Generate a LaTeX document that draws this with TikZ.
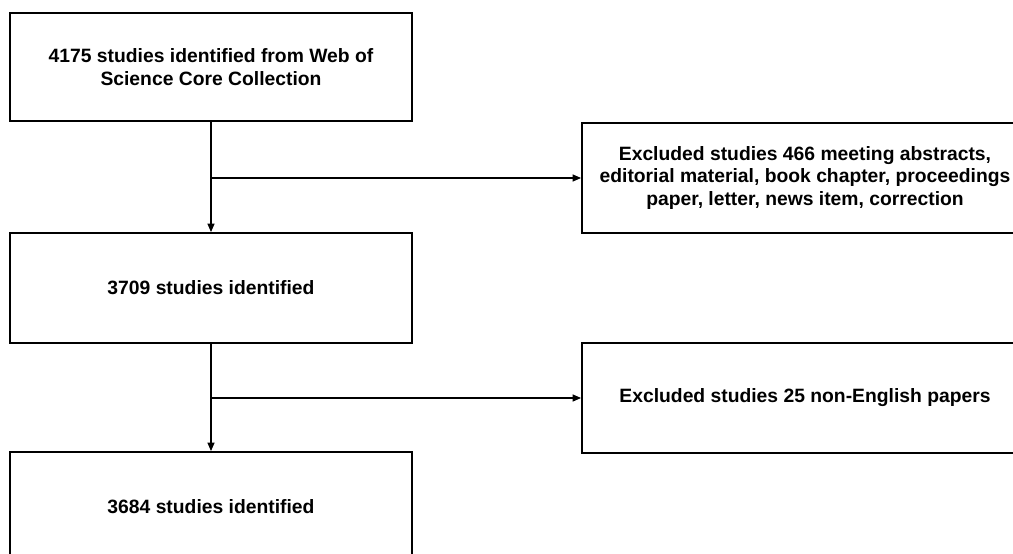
\documentclass[tikz,border=0pt]{standalone}
\usepackage{fontspec}
\setmainfont{Liberation Sans}
\usetikzlibrary{calc}
\usetikzlibrary{positioning}
\usetikzlibrary{arrows.meta}

\tikzset{
  stagebox/.style={draw, line width=1.8pt, minimum width=402pt, minimum height=108pt,
    align=center, inner sep=0pt, font=\bfseries\fontsize{19.3}{22.5}\selectfont},
  exclbox/.style={stagebox, minimum width=446pt},
  flow/.style={->, line width=1.3pt}
}

\begin{document}
\begin{tikzpicture}[>={Triangle[length=8.5pt, width=7pt]}, x=1pt, y=-1pt]
  \useasboundingbox (0,0) rectangle (1013,554);

  % Main column of the flow chart
  \node[stagebox] (wos) at (211,67) {4175 studies identified from Web of\\Science Core Collection};
  \node[stagebox, minimum height=110pt] (n1) at (211,288) {3709 studies identified};
  \node[stagebox, minimum height=110pt] (n2) at (211,507) {3684 studies identified};

  % Excluded records on the right
  \node[exclbox, minimum height=110pt] (ex1) at (805,178) {Excluded studies 466 meeting abstracts,\\editorial material, book chapter, proceedings\\paper, letter, news item, correction};
  \node[exclbox, minimum height=110pt] (ex2) at (805,398) {Excluded studies 25 non-English papers};

  % Arrows down the column
  \draw[flow] (wos) -- (n1);
  \draw[flow] (n1) -- (n2);

  % Branches off to the exclusions
  \coordinate (b1) at (wos.south |- ex1.west);
  \coordinate (b2) at (n1.south |- ex2.west);
  \draw[flow] (b1) -- (ex1.west);
  \draw[flow] (b2) -- (ex2.west);
\end{tikzpicture}
\end{document}
